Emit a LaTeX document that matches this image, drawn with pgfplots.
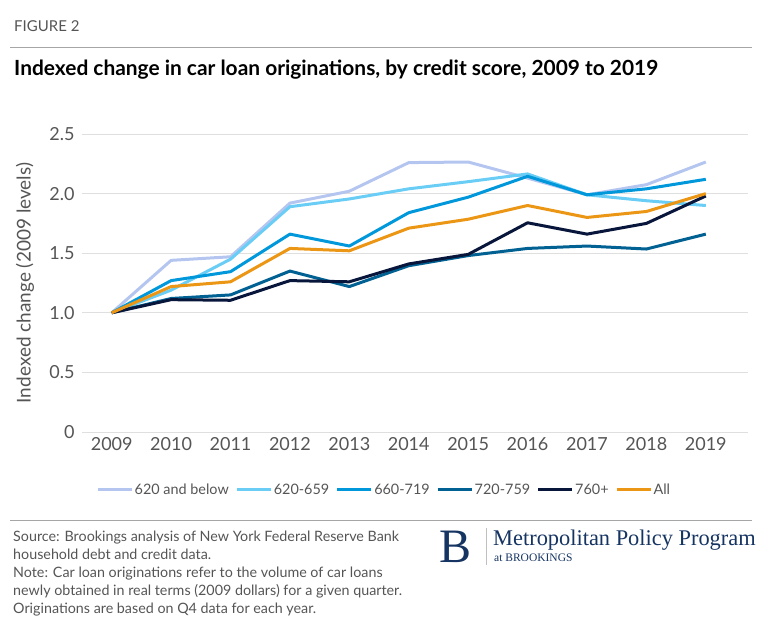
\documentclass[border=0pt]{standalone}
\usepackage{pgfplots}
\pgfplotsset{compat=1.18}
\usepackage{fontspec}
\setmainfont{Lato}
\newfontfamily\logofont{Liberation Serif}

\definecolor{cBelow}{RGB}{180,198,240}
\definecolor{cSix}{RGB}{105,205,245}
\definecolor{cSixSixty}{RGB}{0,152,219}
\definecolor{cSeven}{RGB}{0,97,146}
\definecolor{cTop}{RGB}{8,22,60}
\definecolor{cAll}{RGB}{235,150,20}
\definecolor{navy}{RGB}{22,52,98}
\definecolor{txtgray}{RGB}{85,85,85}

\pgfplotstableread{
year below six sixsixty seven top all
2009 1.00 1.00 1.00 1.00 1.00 1.00
2010 1.44 1.19 1.27 1.12 1.11 1.22
2011 1.47 1.45 1.345 1.15 1.105 1.26
2012 1.92 1.89 1.66 1.35 1.27 1.54
2013 2.02 1.955 1.56 1.22 1.26 1.52
2014 2.26 2.04 1.84 1.395 1.41 1.71
2015 2.265 2.10 1.97 1.48 1.49 1.785
2016 2.13 2.165 2.145 1.54 1.755 1.90
2017 1.99 1.99 1.99 1.56 1.66 1.80
2018 2.075 1.94 2.04 1.535 1.75 1.85
2019 2.265 1.90 2.12 1.66 1.98 2.00
}\data

\begin{document}
\begin{tikzpicture}[x=1pt,y=1pt]
\useasboundingbox (0,0) rectangle (768,628);

\node[anchor=west,font=\fontsize{15}{18}\selectfont,text=txtgray,inner sep=0] at (14,602) {FIGURE 2};
\draw[gray!70,line width=0.8pt] (10,581) -- (752,581);
\node[anchor=west,font=\fontsize{20.9}{24}\selectfont\bfseries,inner sep=0] at (14,558) {Indexed change in car loan originations, by credit score, 2009 to 2019};

\node[rotate=90,font=\fontsize{19}{22}\selectfont,text=txtgray,inner sep=0] at (25,345) {Indexed change (2009 levels)};

\begin{axis}[
  at={(82pt,196pt)}, anchor=south west,
  scale only axis, width=666pt, height=298pt,
  xmin=2008.5, xmax=2019.71, ymin=0, ymax=2.5,
  axis line style={draw=none},
  major tick length=0pt,
  ytick={0,0.5,1,1.5,2,2.5},
  yticklabels={0,0.5,1.0,1.5,2.0,2.5},
  xtick={2009,...,2019},
  ymajorgrids, grid style={gray!25,line width=0.9pt},
  xticklabel style={/pgf/number format/1000 sep={}},
  /pgf/number format/assume math mode=true,
  tick label style={font=\fontsize{18}{21}\selectfont,text=txtgray},
  x tick label style={yshift=-2pt},
  y tick label style={xshift=-4pt},
  clip=false,
  legend columns=6,
  legend style={at={(14pt,-58pt)},anchor=west,draw=none,fill=none,
    font=\fontsize{14.4}{16}\selectfont,text=txtgray,
    inner xsep=0pt,
    nodes={inner xsep=1.5pt},
    /tikz/every even column/.append style={column sep=5pt}},
  legend image code/.code={\draw[#1,line width=3pt] (0pt,0pt) -- (34pt,0pt);},
  every axis plot/.append style={line width=3pt,line join=round},
]
\addplot[cBelow] table[x=year,y=below]{\data};
\addlegendentry{620 and below}
\addplot[cSix] table[x=year,y=six]{\data};
\addlegendentry{620-659}
\addplot[cSixSixty] table[x=year,y=sixsixty]{\data};
\addlegendentry{660-719}
\addplot[cSeven] table[x=year,y=seven]{\data};
\addlegendentry{720-759}
\addplot[cTop] table[x=year,y=top]{\data};
\addlegendentry{760+}
\addplot[cAll] table[x=year,y=all]{\data};
\addlegendentry{All}
\end{axis}

\draw[gray!70,line width=0.8pt] (10,108) -- (752,108);
\node[anchor=north west,align=left,inner sep=0,text=txtgray,font=\fontsize{14.3}{18}\selectfont] at (13,97)
{Source: Brookings analysis of New York Federal Reserve Bank\\
household debt and credit data.\\
Note: Car loan originations refer to the volume of car loans\\
newly obtained in real terms (2009 dollars) for a given quarter.\\
Originations are based on Q4 data for each year.};

\node[anchor=south west,inner sep=0,text=navy,font=\logofont\fontsize{48}{48}\selectfont] at (439,65) {B};
\draw[gray!50,line width=0.6pt] (486,63) -- (486,100);
\node[anchor=base west,inner sep=0,text=navy,font=\logofont\fontsize{22.4}{26}\selectfont] at (493,82) {Metropolitan Policy Program};
\node[anchor=base west,inner sep=0,text=navy,font=\logofont\fontsize{11.5}{13}\selectfont] at (494,66) {at BROOKINGS};
\end{tikzpicture}
\end{document}
